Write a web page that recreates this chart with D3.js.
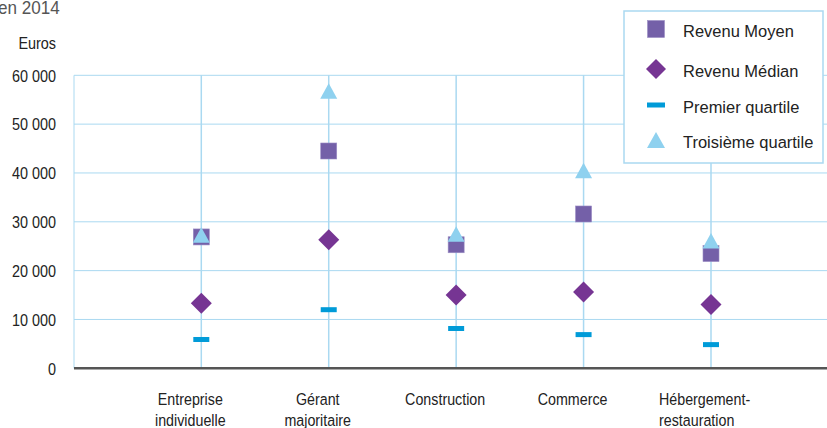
<!DOCTYPE html>
<html><head><meta charset="utf-8">
<script src="https://cdn.jsdelivr.net/npm/d3@7"></script>
<style>html,body{margin:0;padding:0;background:#fff;}svg{display:block;}</style>
</head><body><svg id="c" width="827" height="428"></svg>
<script>
const categories = ["Entreprise individuelle", "Gérant majoritaire", "Construction", "Commerce", "Hébergement-restauration"];
const categoryLines = [["Entreprise", "individuelle"], ["Gérant", "majoritaire"], ["Construction"], ["Commerce"], ["Hébergement-", "restauration"]];
const revenuMoyen = [26900, 44500, 25300, 31600, 23500];
const revenuMedian = [13300, 26300, 15000, 15600, 13050];
const premierQuartile = [5900, 12000, 8150, 6900, 4850];
const troisiemeQuartile = [27300, 56800, 27500, 40500, 26100];
const yTicks = [0, 10000, 20000, 30000, 40000, 50000, 60000];
const seriesNames = ["Revenu Moyen", "Revenu Médian", "Premier quartile", "Troisième quartile"];

const svg = d3.select("#c");
const font = "'Liberation Sans', Arial, Helvetica, sans-serif";
const gridCol = "#aad9f1";
const colMoyen = "#7460a8", colMedian = "#763593", colQ1 = "#009bd8", colQ3 = "#8fd1ef";

const x = d3.scalePoint().domain(categories).range([201.3, 711]);
const y = d3.scaleLinear().domain([0, 60000]).range([368.3, 75.3]);
const left = 74, right = 827;

// gridlines
svg.append("g").selectAll("line").data(yTicks.filter(d => d > 0)).join("line")
  .attr("x1", left).attr("x2", right).attr("y1", d => y(d)).attr("y2", d => y(d))
  .attr("stroke", gridCol).attr("stroke-width", 1);
// left axis line
svg.append("line").attr("x1", left).attr("x2", left).attr("y1", y(60000)).attr("y2", y(0))
  .attr("stroke", gridCol).attr("stroke-width", 1);
// category vertical lines
svg.append("g").selectAll("line").data(categories).join("line")
  .attr("x1", d => x(d)).attr("x2", d => x(d)).attr("y1", y(60000)).attr("y2", y(0))
  .attr("stroke", gridCol).attr("stroke-width", 1.5);

// y tick labels
const yAxis = d3.axisLeft(y).tickValues(yTicks).tickSize(0).tickPadding(0)
  .tickFormat(d => d3.format(",")(d).replace(/,/g, " "));
const ya = svg.append("g").attr("transform", "translate(56,0)").call(yAxis);
ya.select(".domain").remove();
ya.selectAll("text").attr("font-family", font).attr("font-size", 16).attr("fill", "#222")
  .attr("dy", "0.36em").attr("x", 0).attr("transform", "scale(0.9,1)");

// bottom axis line
svg.append("line").attr("x1", left).attr("x2", right).attr("y1", y(0)).attr("y2", y(0))
  .attr("stroke", "#555").attr("stroke-width", 2.5);

// "Euros" and title
svg.append("text").attr("transform", "translate(56,49) scale(0.9,1)").attr("text-anchor", "end")
  .attr("font-family", font).attr("font-size", 16).attr("fill", "#222").text("Euros");
svg.append("text").attr("transform", "translate(-2,14) scale(0.95,1)")
  .attr("font-family", font).attr("font-size", 18).attr("fill", "#555").text("en 2014");

// category labels
categoryLines.forEach((lines, i) => {
  const cx = x(categories[i]);
  const last = i === categories.length - 1;
  const g = svg.append("g").attr("transform", `translate(${last ? cx - 52 : cx - 11},0)`);
  lines.forEach((ln, j) => {
    g.append("text").attr("transform", `translate(0,${405 + j * 21}) scale(0.84,1)`)
      .attr("text-anchor", last ? "start" : "middle")
      .attr("font-family", font).attr("font-size", 17).attr("fill", "#222").text(ln);
  });
});

// markers
const sq = 16, dia = 10.5;
function drawSquare(sel, cx, cy, s) {
  sel.append("rect").attr("x", cx - s / 2).attr("y", cy - s / 2).attr("width", s).attr("height", s)
    .attr("fill", colMoyen).attr("stroke", "#9a8cc4").attr("stroke-width", 0.6);
}
function drawDiamond(sel, cx, cy, r) {
  sel.append("path").attr("d", `M${cx},${cy - r}L${cx + r},${cy}L${cx},${cy + r}L${cx - r},${cy}Z`)
    .attr("fill", colMedian);
}
function drawDash(sel, cx, cy, w) {
  sel.append("rect").attr("x", cx - w / 2).attr("y", cy - 2.5).attr("width", w).attr("height", 5)
    .attr("fill", colQ1);
}
function drawTri(sel, cx, cy, w, h) {
  sel.append("path").attr("d", `M${cx},${cy - h / 2}L${cx + w / 2},${cy + h / 2}L${cx - w / 2},${cy + h / 2}Z`)
    .attr("fill", colQ3);
}
const mk = svg.append("g");
categories.forEach((c, i) => drawSquare(mk, x(c), y(revenuMoyen[i]), sq));
categories.forEach((c, i) => drawDiamond(mk, x(c), y(revenuMedian[i]), dia));
categories.forEach((c, i) => drawDash(mk, x(c), y(premierQuartile[i]), 16));
categories.forEach((c, i) => drawTri(mk, x(c), y(troisiemeQuartile[i]), 17, 15.5));

// legend
const lg = svg.append("g");
lg.append("rect").attr("x", 624).attr("y", 11).attr("width", 199).attr("height", 152)
  .attr("fill", "#fff").attr("stroke", gridCol).attr("stroke-width", 1.5);
const rowsY = [29, 69, 105, 140];
drawSquare(lg, 656, rowsY[0], 17);
drawDiamond(lg, 656, rowsY[1], 10);
drawDash(lg, 656, rowsY[2], 18);
drawTri(lg, 656, rowsY[3], 18, 16);
seriesNames.forEach((n, i) => {
  lg.append("text").attr("transform", `translate(683,${rowsY[i] + 8}) scale(0.97,1)`)
    .attr("font-family", font).attr("font-size", 17).attr("fill", "#222").text(n);
});
</script></body></html>
